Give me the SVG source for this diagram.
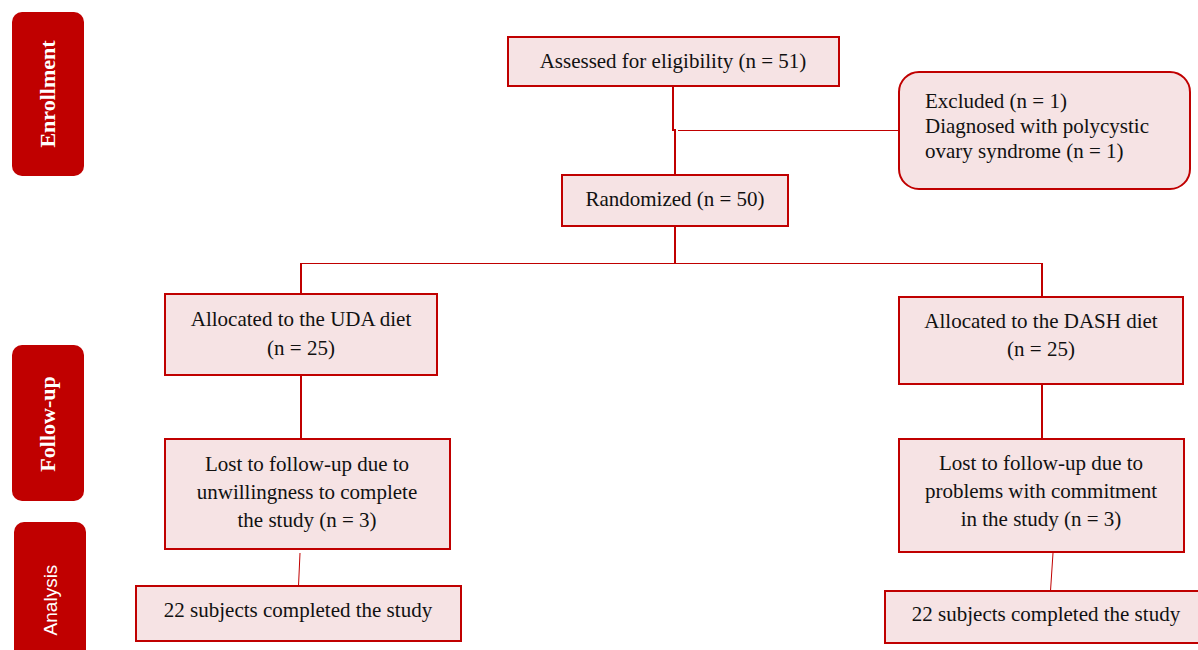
<svg xmlns="http://www.w3.org/2000/svg" width="1198" height="650" viewBox="0 0 1198 650">
<style>
.tab{fill:#C00000;}
.tabt{fill:#fff;font-family:"Liberation Serif",serif;font-weight:bold;font-size:22px;text-anchor:middle;}
.tabs{fill:#fff;font-family:"Liberation Sans",sans-serif;font-size:19px;text-anchor:middle;}
.box{fill:#F6E3E4;stroke:#C00000;stroke-width:2;}
.t{fill:#111;font-family:"Liberation Serif",serif;font-size:21px;text-anchor:middle;}
.tl{fill:#111;font-family:"Liberation Serif",serif;font-size:21px;}
.c{fill:none;stroke:#C00000;stroke-width:2;}
.c1{fill:none;stroke:#C00000;stroke-width:1;}
</style>
<rect width="1198" height="650" fill="#fff"/>
<g id="tab-enrollment"><rect class="tab" x="12" y="12" width="72" height="164" rx="10"/><text class="tabt" transform="translate(55,94) rotate(-90)">Enrollment</text></g>
<g id="tab-followup"><rect class="tab" x="12" y="345" width="72" height="156" rx="10"/><text class="tabt" transform="translate(55,424) rotate(-90)">Follow-up</text></g>
<g id="tab-analysis"><rect class="tab" x="14" y="522" width="72" height="140" rx="10"/><text class="tabs" transform="translate(57,600) rotate(-90)">Analysis</text></g>
<g id="connectors">
<path class="c" d="M673,86 V130 H675 V175"/>
<path class="c1" d="M678,130.5 H899"/>
<path class="c" d="M675,226 V263"/>
<path class="c1" d="M301,263.5 H1042"/>
<path class="c" d="M301,263 V294 M1042,263 V297"/>
<path class="c" d="M301,376 V439"/>
<path class="c" d="M1042,385 V439"/>
<path class="c1" d="M300,553 L298.5,586"/>
<path class="c1" d="M1053,553 L1050.5,591"/>
</g>
<g id="assessed"><rect class="box" x="508" y="37" width="331" height="49"/><text class="t" x="673" y="68">Assessed for eligibility (n = 51)</text></g>
<g id="excluded"><rect class="box" x="899" y="72" width="291" height="117" rx="20"/><text class="tl" x="925" y="108">Excluded (n = 1)</text><text class="tl" x="925" y="133">Diagnosed with polycystic</text><text class="tl" x="925" y="158">ovary syndrome (n = 1)</text></g>
<g id="randomized"><rect class="box" x="562" y="175" width="226" height="51"/><text class="t" x="675" y="206">Randomized (n = 50)</text></g>
<g id="uda"><rect class="box" x="165" y="294" width="272" height="81"/><text class="t" x="301" y="326">Allocated to the UDA diet</text><text class="t" x="301" y="355">(n = 25)</text></g>
<g id="dash"><rect class="box" x="899" y="297" width="284" height="87"/><text class="t" x="1041" y="328">Allocated to the DASH diet</text><text class="t" x="1041" y="356">(n = 25)</text></g>
<g id="uda-lost"><rect class="box" x="165" y="439" width="285" height="110"/><text class="t" x="307" y="471">Lost to follow-up due to</text><text class="t" x="307" y="499">unwillingness to complete</text><text class="t" x="307" y="527">the study (n = 3)</text></g>
<g id="dash-lost"><rect class="box" x="899" y="439" width="285" height="113"/><text class="t" x="1041" y="470">Lost to follow-up due to</text><text class="t" x="1041" y="498">problems with commitment</text><text class="t" x="1041" y="526">in the study (n = 3)</text></g>
<g id="uda-done"><rect class="box" x="136" y="586" width="325" height="55"/><text class="t" x="298" y="617">22 subjects completed the study</text></g>
<g id="dash-done"><rect class="box" x="885" y="591" width="320" height="52"/><text class="t" x="1046" y="621">22 subjects completed the study</text></g>
</svg>
